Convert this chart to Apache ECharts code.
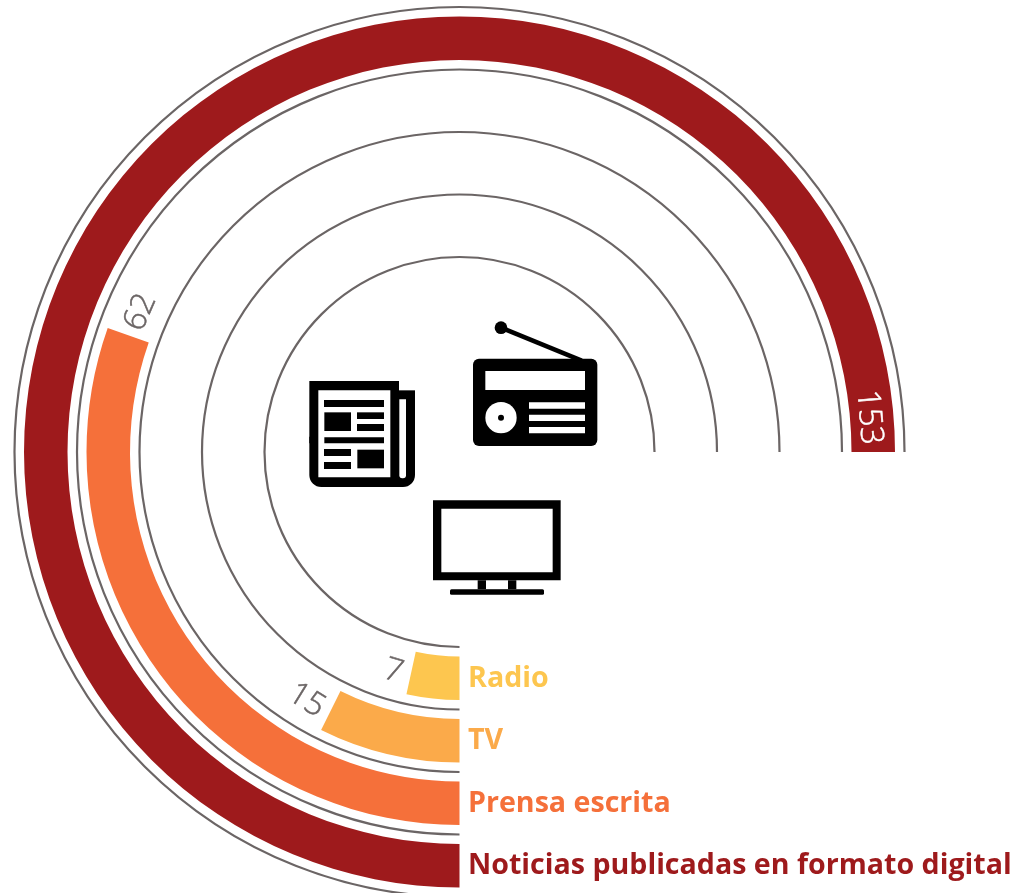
<!DOCTYPE html>
<html>
<head>
<meta charset="utf-8">
<style>html,body{margin:0;padding:0;background:#fff}#c{width:1017px;height:893px}</style>
<script src="https://cdn.jsdelivr.net/npm/echarts@6/dist/echarts.min.js"></script>
</head>
<body>
<div id="c"></div>
<script>
const categories = ['Radio', 'TV', 'Prensa escrita', 'Noticias publicadas en formato digital'];
const values = [7, 15, 62, 153];
const colors = ['#FDC64F', '#FBAA4A', '#F5703A', '#9E1A1C'];
const ringEdges = [0, 1, 2, 3, 4];
const angleMax = 204;
const lineColor = '#6B6565';

const chart = echarts.init(document.getElementById('c'), null, {renderer: 'canvas'});

// icon helpers: coordinates are measured in a local icon box
const ox = 280, oy = 310, s = 1 / 3;
function R(x0, x1, y0, y1, fill, r) {
  return {type: 'rect', silent: true, z: 10,
    shape: {x: ox + x0 * s, y: oy + y0 * s, width: (x1 - x0) * s, height: (y1 - y0) * s, r: r || 0},
    style: {fill: fill}};
}
function C(x, y, rad, fill) {
  return {type: 'circle', silent: true, z: 10,
    shape: {cx: ox + x * s, cy: oy + y * s, r: rad * s}, style: {fill: fill}};
}
const K = '#000', W = '#fff';
const icons = [
  // newspaper
  R(88, 357, 213, 400, K), R(357, 405, 241, 400, K),
  R(88, 405, 380, 531, K, [0, 0, 12, 12]),
  R(115, 331, 241, 502, W), R(358, 378, 268, 505, W, [0, 0, 3, 3]),
  R(132, 312, 270, 291, K), R(133, 213, 307, 363, K), R(231, 312, 307, 327, K),
  R(231, 312, 342, 363, K), R(133, 312, 382, 400, K), R(132, 213, 417, 438, K),
  R(232, 312, 419, 475, K), R(132, 213, 456, 477, K),
  // radio
  {type: 'line', silent: true, z: 10,
    shape: {x1: ox + 663 * s, y1: oy + 53 * s, x2: ox + 905 * s, y2: oy + 152 * s},
    style: {stroke: K, lineWidth: 4.6}},
  C(663, 53, 19, K),
  R(579, 952, 146, 408, K, 6),
  R(616, 915, 183, 240, W),
  C(663, 323, 47, W), C(663, 323, 9, K),
  R(747, 915, 277, 296, W), R(747, 915, 314, 333, W), R(747, 915, 351, 370, W),
  // television
  R(459, 842, 571, 811, K), R(484, 818, 596, 787, W),
  R(593, 709, 811, 838, K), R(618, 684, 811, 838, W),
  R(510, 792, 838, 854, K, 1.5)
];

chart.setOption({
  animation: false,
  backgroundColor: '#fff',
  polar: {center: [459.5, 452], radius: [195, 445]},
  angleAxis: {
    type: 'value', min: 0, max: angleMax, startAngle: 270, clockwise: true,
    axisLine: {show: false}, axisTick: {show: false}, axisLabel: {show: false}, splitLine: {show: false}
  },
  radiusAxis: {
    type: 'category', data: categories,
    axisLine: {show: false}, axisTick: {show: false}, axisLabel: {show: false}, splitLine: {show: false}
  },
  series: [
    {
      type: 'custom', coordinateSystem: 'polar', silent: true, z: 1, clip: false,
      data: ringEdges.map(e => [0, 0, e]),
      encode: {radius: 0, angle: 1},
      renderItem(params, api) {
        const cs = params.coordSys;
        const e = api.value(2);
        return {
          type: 'arc',
          shape: {
            cx: cs.cx, cy: cs.cy,
            r: cs.r0 + e * (cs.r - cs.r0) / (ringEdges.length - 1),
            startAngle: Math.PI / 2, endAngle: Math.PI * 2, clockwise: true
          },
          style: {stroke: lineColor, lineWidth: 2.2, fill: null}
        };
      }
    },
    {
      type: 'bar', coordinateSystem: 'polar', silent: true, z: 2, barWidth: 43.5,
      data: values.map((v, i) => ({value: v, itemStyle: {color: colors[i]}}))
    },
    {
      // value labels, following the end of each bar
      type: 'custom', coordinateSystem: 'polar', silent: true, z: 3, clip: false,
      data: values.map((v, i) => [i, v]),
      encode: {radius: 0, angle: 1},
      renderItem(params, api) {
        const cs = params.coordSys;
        const v = api.value(1);
        const p0 = api.coord([api.value(0), v]);
        const r = Math.hypot(p0[0] - cs.cx, p0[1] - cs.cy);
        const inside = v / values[values.length - 1] > 0.9;
        const text = String(v);
        const gapPx = inside ? -35 : text.length * 8.5 + 9;
        const vv = v + gapPx / r * (180 / Math.PI) * (angleMax / 360);
        const p = api.coord([api.value(0), vv]);
        const theta = vv / angleMax * 360;
        const cw = theta <= 90 ? theta : theta - 180;
        return {
          type: 'text', x: p[0], y: p[1], rotation: -cw * Math.PI / 180,
          style: {
            text: text, x: 0, y: 3, fill: inside ? '#fff' : lineColor,
            font: '300 32px "Open Sans"', align: 'center', verticalAlign: 'middle',
            stroke: inside ? '#fff' : lineColor, lineWidth: 0.5
          }
        };
      }
    },
    {
      // category labels beside the start of each bar
      type: 'custom', coordinateSystem: 'polar', silent: true, z: 3, clip: false,
      data: categories.map((c, i) => [i, 0]),
      encode: {radius: 0, angle: 1},
      renderItem(params, api) {
        const i = params.dataIndex;
        const p = api.coord([api.value(0), 0]);
        return {
          type: 'text', x: p[0] + 8.5, y: p[1] + 0.5,
          style: {
            text: categories[i], fill: colors[i],
            font: '700 28.6px "Open Sans"', align: 'left', verticalAlign: 'middle'
          }
        };
      }
    }
  ],
  graphic: {elements: icons}
});
</script>
</body>
</html>
